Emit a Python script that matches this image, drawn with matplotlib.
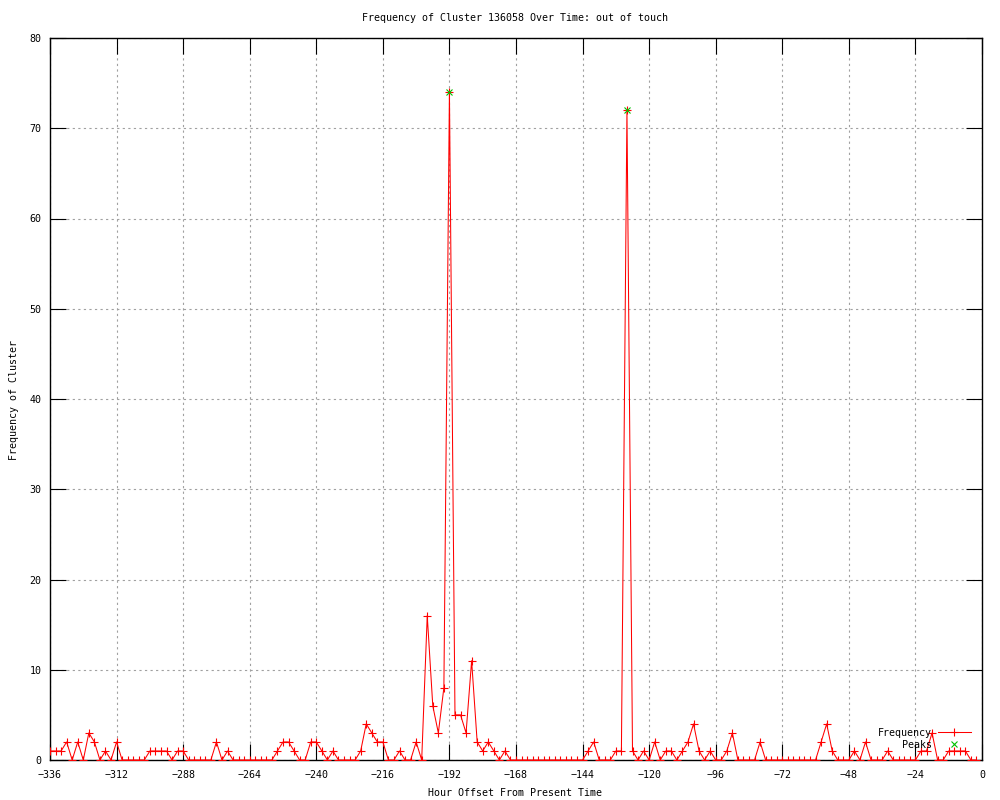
import numpy as np
import matplotlib
matplotlib.use("Agg")
import matplotlib.pyplot as plt

# hour offsets (every 2 hours) and cluster frequency
hours = list(range(-336, 0, 2))
freq = [
    # -336 .. -282
    1, 1, 1, 2, 0, 2, 0, 3, 2, 0, 1, 0, 2, 0, 0, 0, 0, 0, 1, 1, 1, 1, 0, 1, 1, 0, 0, 0,
    # -280 .. -226
    0, 0, 2, 0, 1, 0, 0, 0, 0, 0, 0, 0, 0, 1, 2, 2, 1, 0, 0, 2, 2, 1, 0, 1, 0, 0, 0, 0,
    # -224 .. -170
    1, 4, 3, 2, 2, 0, 0, 1, 0, 0, 2, 0, 16, 6, 3, 8, 74, 5, 5, 3, 11, 2, 1, 2, 1, 0, 1, 0,
    # -168 .. -114
    0, 0, 0, 0, 0, 0, 0, 0, 0, 0, 0, 0, 0, 1, 2, 0, 0, 0, 1, 1, 72, 1, 0, 1, 0, 2, 0, 1,
    # -112 .. -58
    1, 0, 1, 2, 4, 1, 0, 1, 0, 0, 1, 3, 0, 0, 0, 0, 2, 0, 0, 0, 0, 0, 0, 0, 0, 0, 0, 2,
    # -56 .. -2
    4, 1, 0, 0, 0, 1, 0, 2, 0, 0, 0, 1, 0, 0, 0, 0, 0, 1, 1, 3, 0, 0, 1, 1, 1, 1, 0, 0,
]
peak_hours = [-192, -128]
peak_freq = [74, 72]

plt.rcParams['font.family'] = ['DejaVu Sans Mono']
fs = 7.2

fig = plt.figure(figsize=(10, 8), dpi=100)
ax = fig.add_axes([0.05, 0.05, 0.932, 0.9025])

ax.plot(hours, freq, color='#ff0000', lw=0.75, marker='+', ms=6, mew=0.8,
        label='Frequency', zorder=3)
ax.plot(peak_hours, peak_freq, ls='none', marker='x', color='#00c000', ms=5,
        mew=0.8, label='Peaks', zorder=4)

ax.set_xlim(-336, 0)
ax.set_ylim(0, 80)
ax.set_xticks(np.arange(-336, 1, 24))
ax.set_yticks(np.arange(0, 81, 10))
ax.tick_params(direction='in', length=11.5, width=0.8, labelsize=fs,
               top=True, right=True, pad=6)
ax.tick_params(axis='x', pad=7)
ax.grid(True, color='#a0a0a0', linestyle=(0, (2, 3)), linewidth=0.8)
ax.set_axisbelow(True)
for s in ax.spines.values():
    s.set_linewidth(1.0)

fig.text(0.515, 1 - 18 / 800, 'Frequency of Cluster 136058 Over Time: out of touch',
         ha='center', va='center', fontsize=fs)
fig.text(0.515, 1 - 793 / 800, 'Hour Offset From Present Time',
         ha='center', va='center', fontsize=fs)
fig.text(0.014, 0.5, 'Frequency of Cluster', rotation=90,
         ha='center', va='center', fontsize=fs)

ax.legend(loc='lower right', bbox_to_anchor=(0.988, 0.014), frameon=False,
          markerfirst=False, fontsize=fs, handlelength=3.3, handletextpad=0.6,
          labelspacing=0.2, borderpad=0, borderaxespad=0)

fig.savefig('out.png', dpi=100)
